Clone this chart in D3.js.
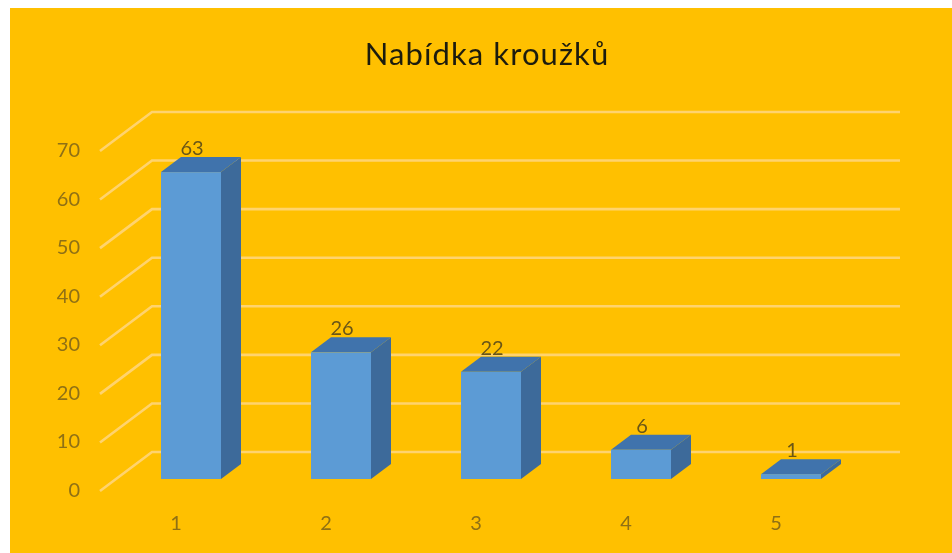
<!DOCTYPE html>
<html><head><meta charset="utf-8">
<script src="https://cdn.jsdelivr.net/npm/d3@7"></script>
<style>html,body{margin:0;padding:0;background:#fff}svg{display:block}</style>
</head><body>
<svg id="c" width="952" height="553"></svg>
<script>
const categories = ["1","2","3","4","5"];
const values = [63,26,22,6,1];
const yTicks = [0,10,20,30,40,50,60,70];
const title = "Nabídka kroužků";

const svg = d3.select("#c");
const font = "Lato, Carlito, 'Open Sans', sans-serif";
const defs = svg.append("defs");
defs.append("filter").attr("id","soft").append("feGaussianBlur").attr("stdDeviation",0.6);

svg.append("rect").attr("x",10).attr("y",8).attr("width",942).attr("height",545).attr("fill","#FFC000");
const g = svg.append("g").attr("filter","url(#soft)");

const x = d3.scaleBand().domain(categories).range([116,866]).paddingInner(0.6).paddingOuter(0.3);
const yWall = d3.scaleLinear().domain([0,70]).range([452,112]);
const yBar = d3.scaleLinear().domain([0,70]).range([479,138]);
const yLabel = d3.scaleLinear().domain([0,70]).range([490,150]);
const wallLeft = 152, wallRight = 900, floorLeft = 100, floorDrop = 39;
const dx = 20, dy = 15;

// gridlines
g.append("g").selectAll("path").data(yTicks).join("path")
  .attr("fill","none").attr("stroke","#FFD36E").attr("stroke-width",2.6)
  .attr("d",v=>d3.line()([[floorLeft,yWall(v)+floorDrop],[wallLeft,yWall(v)],[wallRight,yWall(v)]]));

// y labels
g.append("g").selectAll("text").data(yTicks).join("text")
  .attr("x",80).attr("y",v=>yLabel(v)).attr("dy","0.35em").attr("text-anchor","end")
  .attr("font-family",font).attr("font-size",20).attr("fill","#8F7014").text(d=>d);

// x labels
g.append("g").selectAll("text").data(categories).join("text")
  .attr("x",d=>x(d)+15).attr("y",523).attr("dy","0.35em").attr("text-anchor","middle")
  .attr("font-family",font).attr("font-size",20).attr("fill","#8F7014").text(d=>d);

// bars
const bars = g.append("g").selectAll("g").data(categories.map((c,i)=>({c,v:values[i]}))).join("g");
bars.append("path").attr("fill","#3C6A9A").attr("d",d=>{
  const r=x(d.c)+x.bandwidth(),t=yBar(d.v),b=yBar(0);
  return d3.line()([[r,t],[r+dx,t-dy],[r+dx,b-dy],[r,b]])+"Z";});
bars.append("path").attr("fill","#3F73AC").attr("d",d=>{
  const l=x(d.c),r=l+x.bandwidth(),t=yBar(d.v);
  return d3.line()([[l,t],[l+dx,t-dy],[r+dx,t-dy],[r,t]])+"Z";});
bars.append("rect").attr("fill","#5B9BD5")
  .attr("x",d=>x(d.c)).attr("width",x.bandwidth())
  .attr("y",d=>yBar(d.v)).attr("height",d=>yBar(0)-yBar(d.v));

// value labels
bars.append("text").attr("x",d=>x(d.c)+31).attr("y",d=>yBar(d.v)-24)
  .attr("dy","0.35em").attr("text-anchor","middle")
  .attr("font-family",font).attr("font-size",20).attr("fill","#6B5716").text(d=>d.v);

// title
g.append("text").attr("x",487).attr("y",54).attr("dy","0.35em").attr("text-anchor","middle")
  .attr("font-family",font).attr("font-size",31).attr("letter-spacing","1.1").attr("fill","#1F1C10").text(title);
</script>
</body></html>
